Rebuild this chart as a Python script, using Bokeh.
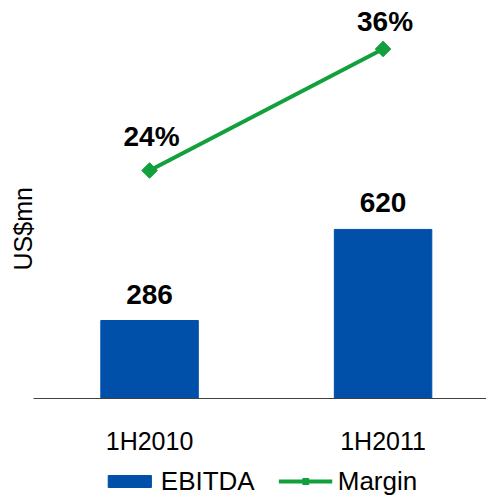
from bokeh.plotting import figure
from bokeh.layouts import column
from bokeh.models import (Range1d, FixedTicker, ColumnDataSource, LabelSet,
                          Legend, LegendItem, Title)
from bokeh.core.properties import value
from bokeh.embed import file_html
from bokeh.resources import INLINE

# ---- data ----
periods = ["1H2010", "1H2011"]
ebitda = [286, 620]
margin = [24, 36]
ebitda_labels = ["286", "620"]
margin_labels = ["24%", "36%"]

BLUE = "#0050aa"
GREEN = "#12a03c"
FONT = "Liberation Sans"

xs = list(range(len(periods)))

p = figure(width=486, height=466, output_backend="svg", toolbar_location=None,
           x_range=Range1d(-0.497, 1.443), y_range=Range1d(0, 1430),
           min_border_left=33, min_border_right=0, min_border_top=8,
           min_border_bottom=68)
p.extra_y_ranges = {"margin": Range1d(1.48, 40.0)}
p.outline_line_color = None
p.grid.visible = False
p.background_fill_color = "white"
p.border_fill_color = "white"
p.yaxis.visible = False

p.add_layout(Title(text="US$mn", align="left", offset=128, standoff=-7,
                   text_font=FONT, text_font_size="25px",
                   text_font_style="normal", text_color="black"), "left")

xa = p.xaxis[0]
xa.ticker = FixedTicker(ticks=xs)
xa.major_label_overrides = {i: periods[i] for i in xs}
xa.axis_line_color = "#404040"
xa.axis_line_width = 1
xa.major_tick_out = 0
xa.major_tick_in = 0
xa.minor_tick_out = 0
xa.minor_tick_in = 0
xa.major_label_standoff = 28
xa.major_label_text_font = FONT
xa.major_label_text_font_size = "25px"
xa.major_label_text_color = "black"

src = ColumnDataSource(dict(x=xs, ebitda=ebitda, margin=margin,
                            elab=ebitda_labels, mlab=margin_labels,
                            mdy=[24, 17.5]))

p.vbar(x="x", top="ebitda", bottom=0, width=0.4175, source=src,
       fill_color=BLUE, line_color=BLUE)
p.line(x="x", y="margin", source=src, y_range_name="margin",
       line_color=GREEN, line_width=4)
p.scatter(x="x", y="margin", source=src, y_range_name="margin",
          marker="square", angle=0.785398, size=11,
          fill_color=GREEN, line_color=GREEN)

p.add_layout(LabelSet(x="x", y="ebitda", text="elab", source=src,
                      y_offset=17, text_align="center",
                      text_baseline="alphabetic", text_font=value(FONT),
                      text_font_size=value("28px"), text_font_style="bold",
                      text_color="black"))
p.add_layout(LabelSet(x="x", y="margin", text="mlab", source=src,
                      y_range_name="margin", x_offset=2, y_offset="mdy",
                      text_align="center", text_baseline="alphabetic",
                      text_font=value(FONT), text_font_size=value("28px"),
                      text_font_style="bold", text_color="black"))

# ---- legend strip (key glyphs only; renderers hidden) ----
lp = figure(width=486, height=30, output_backend="svg", toolbar_location=None,
            x_axis_type=None, y_axis_type=None,
            min_border_left=0, min_border_right=0, min_border_top=0,
            min_border_bottom=0)
lp.outline_line_color = None
lp.grid.visible = False
lb = lp.vbar(x=xs, top=ebitda, width=0.4175, fill_color=BLUE,
             line_color=BLUE, visible=False)
ll = lp.line(x=xs, y=margin, line_color=GREEN, line_width=4, visible=False)
ls = lp.scatter(x=xs, y=margin, marker="square", angle=0.785398, size=11,
                fill_color=GREEN, line_color=GREEN, visible=False)
legend = Legend(items=[LegendItem(label="EBITDA", renderers=[lb]),
                       LegendItem(label="Margin", renderers=[ll, ls])],
                location="center", orientation="horizontal",
                glyph_width=54, glyph_height=15, label_standoff=5,
                spacing=24, padding=0, margin=0,
                border_line_color=None, background_fill_alpha=0,
                label_text_font=FONT, label_text_font_size="26px",
                label_text_color="black")
lp.add_layout(legend)

layout = column(p, lp, spacing=0)
open("out.html", "w").write(file_html(layout, INLINE, "EBITDA"))
